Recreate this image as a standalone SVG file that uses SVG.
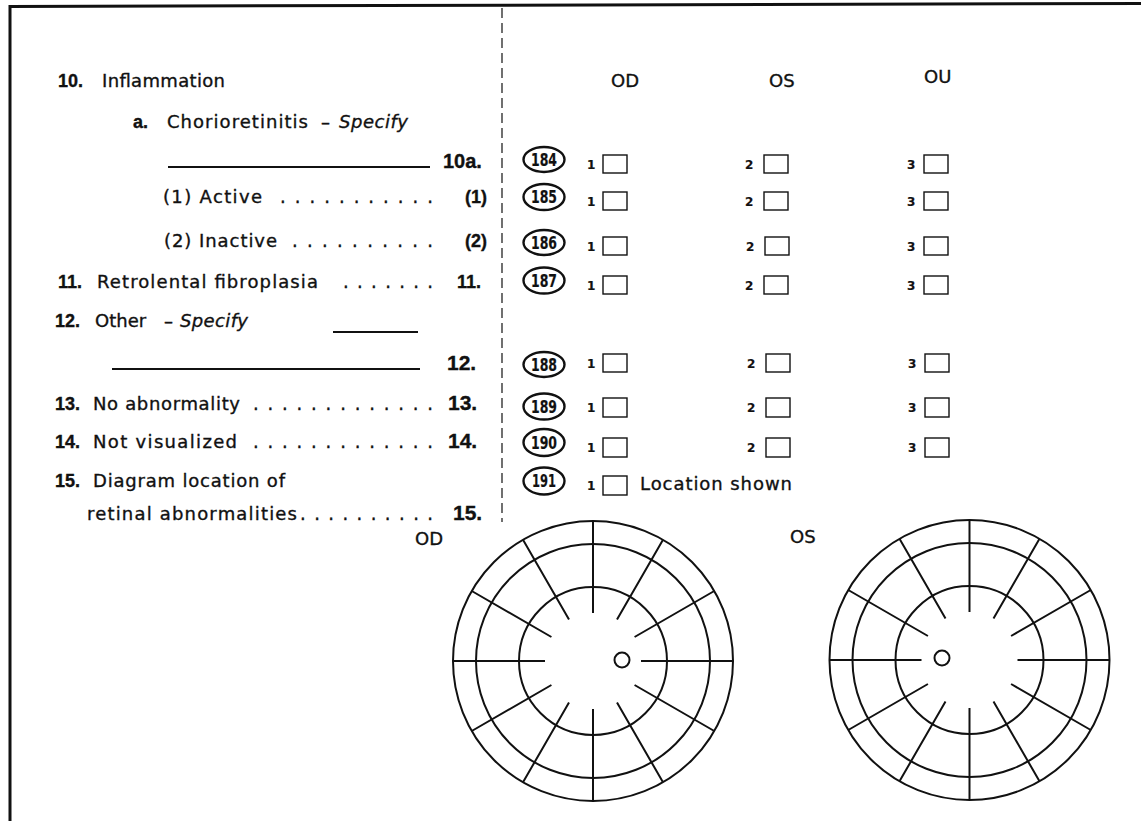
<svg xmlns="http://www.w3.org/2000/svg" xmlns:xlink="http://www.w3.org/1999/xlink" width="1141" height="821" viewBox="0 0 1141 821">
<style>
text{font-family:"DejaVu Sans","Liberation Sans",sans-serif;font-size:18px;fill:#111;stroke:#111;stroke-width:0.35}
.b{font-family:"Liberation Sans","DejaVu Sans",sans-serif;font-weight:bold;font-size:18px}
.i{font-style:italic}
.big{font-family:"Liberation Sans","DejaVu Sans",sans-serif;font-size:21px;font-weight:bold}
.n{font-size:17px;font-weight:bold;text-anchor:middle;stroke-width:0.2}
.s{font-size:12px;font-weight:bold;stroke-width:0.2}
.ln{stroke:#111;stroke-width:1.8;fill:none}
.ov{fill:none;stroke:#111;stroke-width:2.4}
.bx{fill:#fff;stroke:#111;stroke-width:1.4}
.rg{fill:none;stroke:#111;stroke-width:2}
</style>
<defs>
<g id="retina">
<circle r="140" class="rg"/>
<circle r="117" class="rg"/>
<circle r="74" class="rg"/>
<path class="rg" d="M48 0H140M-48 0H-140M0 48V140M0 -48V-140M41.57 24L121.24 70M-41.57 24L-121.24 70M41.57 -24L121.24 -70M-41.57 -24L-121.24 -70M24 41.57L70 121.24M-24 41.57L-70 121.24M24 -41.57L70 -121.24M-24 -41.57L-70 -121.24"/>
</g>
</defs>
<rect width="1141" height="821" fill="#fff"/>
<g id="frame">
<path d="M9 6.5L1141 3.5" stroke="#111" stroke-width="3"/>
<path d="M10 5V821" stroke="#111" stroke-width="3"/>
<path d="M502 8V522" stroke="#111" stroke-width="1.2" stroke-dasharray="10 5"/>
</g>
<g id="labels-left">
<text class="b" x="58" y="87">10.</text>
<text x="102" y="87" textLength="123" lengthAdjust="spacing">Inflammation</text>
<text class="b" x="133" y="128">a.</text>
<text x="167" y="128" textLength="141" lengthAdjust="spacing">Chorioretinitis</text>
<text x="321" y="128">–</text>
<text class="i" x="339" y="128" textLength="69" lengthAdjust="spacing">Specify</text>
<line class="ln" x1="168" y1="167" x2="430" y2="167"/>
<text class="b" x="443" y="168" style="font-size:20px">10a.</text>
<text x="163" y="203" textLength="99" lengthAdjust="spacing">(1) Active</text>
<text x="280" y="203" textLength="153" lengthAdjust="spacing">...........</text>
<text class="b" x="465" y="203">(1)</text>
<text x="164" y="247" textLength="113" lengthAdjust="spacing">(2) Inactive</text>
<text x="292" y="247" textLength="141" lengthAdjust="spacing">..........</text>
<text class="b" x="465" y="247">(2)</text>
<text class="b" x="58" y="288">11.</text>
<text x="97" y="288" textLength="221" lengthAdjust="spacing">Retrolental fibroplasia</text>
<text x="343" y="288" textLength="90" lengthAdjust="spacing">.......</text>
<text class="b" x="457" y="288">11.</text>
<text class="b" x="55" y="327">12.</text>
<text x="95" y="327">Other</text>
<text x="164" y="327">–</text>
<text class="i" x="180" y="327" textLength="68" lengthAdjust="spacing">Specify</text>
<line class="ln" x1="333" y1="332" x2="418" y2="332"/>
<line class="ln" x1="112" y1="369" x2="420" y2="369"/>
<text class="big" x="447" y="370">12.</text>
<text class="b" x="55" y="410">13.</text>
<text x="93" y="410" textLength="147" lengthAdjust="spacing">No abnormality</text>
<text x="253" y="410" textLength="180" lengthAdjust="spacing">.............</text>
<text class="big" x="448" y="410">13.</text>
<text class="b" x="55" y="448">14.</text>
<text x="93" y="448" textLength="144" lengthAdjust="spacing">Not visualized</text>
<text x="253" y="448" textLength="180" lengthAdjust="spacing">.............</text>
<text class="big" x="448" y="448">14.</text>
<text class="b" x="55" y="487">15.</text>
<text x="93" y="487" textLength="192" lengthAdjust="spacing">Diagram location of</text>
<text x="87" y="520" textLength="210" lengthAdjust="spacing">retinal abnormalities</text>
<text x="300" y="520" textLength="133" lengthAdjust="spacing">..........</text>
<text class="big" x="453" y="520">15.</text>
</g>
<g id="headers">
<text x="611" y="87">OD</text>
<text x="769" y="87">OS</text>
<text x="924" y="83">OU</text>
</g>
<g id="codes">
<ellipse class="ov" cx="544" cy="159.5" rx="20.5" ry="12.5"/><text class="n" x="544" y="165.5" textLength="26" lengthAdjust="spacingAndGlyphs">184</text>
<ellipse class="ov" cx="544" cy="197" rx="20.5" ry="13"/><text class="n" x="544" y="203" textLength="26" lengthAdjust="spacingAndGlyphs">185</text>
<ellipse class="ov" cx="544" cy="242.5" rx="20.5" ry="12.5"/><text class="n" x="544" y="248.5" textLength="26" lengthAdjust="spacingAndGlyphs">186</text>
<ellipse class="ov" cx="544" cy="280.5" rx="20.5" ry="13"/><text class="n" x="544" y="286.5" textLength="26" lengthAdjust="spacingAndGlyphs">187</text>
<ellipse class="ov" cx="544" cy="364.5" rx="20.5" ry="12.5"/><text class="n" x="544" y="370.5" textLength="26" lengthAdjust="spacingAndGlyphs">188</text>
<ellipse class="ov" cx="544" cy="406.5" rx="20.5" ry="13"/><text class="n" x="544" y="412.5" textLength="26" lengthAdjust="spacingAndGlyphs">189</text>
<ellipse class="ov" cx="544" cy="442.5" rx="20.5" ry="13.5"/><text class="n" x="544" y="448.5" textLength="26" lengthAdjust="spacingAndGlyphs">190</text>
<ellipse class="ov" cx="544" cy="481" rx="20.5" ry="13.5"/><text class="n" x="544" y="487" textLength="24" lengthAdjust="spacingAndGlyphs">191</text>
</g>
<g id="boxes">
<g id="row184"><text class="s" x="587" y="169">1</text><rect class="bx" x="603" y="155" width="24" height="18"/><text class="s" x="745" y="169">2</text><rect class="bx" x="764" y="155" width="24" height="18"/><text class="s" x="907" y="169">3</text><rect class="bx" x="924" y="155" width="24" height="18"/></g>
<g id="row185"><text class="s" x="587" y="206">1</text><rect class="bx" x="603" y="192" width="24" height="18"/><text class="s" x="745" y="206">2</text><rect class="bx" x="764" y="192" width="24" height="18"/><text class="s" x="907" y="206">3</text><rect class="bx" x="924" y="192" width="24" height="18"/></g>
<g id="row186"><text class="s" x="587" y="251">1</text><rect class="bx" x="603" y="237" width="24" height="18"/><text class="s" x="746" y="251">2</text><rect class="bx" x="765" y="237" width="24" height="18"/><text class="s" x="907" y="251">3</text><rect class="bx" x="924" y="237" width="24" height="18"/></g>
<g id="row187"><text class="s" x="587" y="290">1</text><rect class="bx" x="603" y="276" width="24" height="18"/><text class="s" x="745" y="290">2</text><rect class="bx" x="764" y="276" width="24" height="18"/><text class="s" x="907" y="290">3</text><rect class="bx" x="924" y="276" width="24" height="18"/></g>
<g id="row188"><text class="s" x="587" y="368">1</text><rect class="bx" x="603" y="354" width="24" height="18"/><text class="s" x="747" y="368">2</text><rect class="bx" x="766" y="354" width="24" height="18"/><text class="s" x="908" y="368">3</text><rect class="bx" x="925" y="354" width="24" height="18"/></g>
<g id="row189"><text class="s" x="587" y="412">1</text><rect class="bx" x="603" y="398" width="24" height="19"/><text class="s" x="747" y="412">2</text><rect class="bx" x="766" y="398" width="24" height="19"/><text class="s" x="908" y="412">3</text><rect class="bx" x="925" y="398" width="24" height="19"/></g>
<g id="row190"><text class="s" x="587" y="452">1</text><rect class="bx" x="603" y="438" width="24" height="19"/><text class="s" x="747" y="452">2</text><rect class="bx" x="766" y="438" width="24" height="19"/><text class="s" x="908" y="452">3</text><rect class="bx" x="925" y="438" width="24" height="19"/></g>
<g id="row191"><text class="s" x="587" y="490">1</text><rect class="bx" x="603" y="476" width="24" height="19"/><text x="640" y="490" textLength="152" lengthAdjust="spacing">Location shown</text></g>
</g>
<g id="diagram-od">
<text x="415" y="545">OD</text>
<use xlink:href="#retina" href="#retina" transform="translate(593 661)"/>
<circle cx="622" cy="660" r="7.5" class="rg"/>
</g>
<g id="diagram-os">
<text x="790" y="543">OS</text>
<use xlink:href="#retina" href="#retina" transform="translate(969.5 660)"/>
<circle cx="942" cy="658" r="7.5" class="rg"/>
</g>
</svg>
